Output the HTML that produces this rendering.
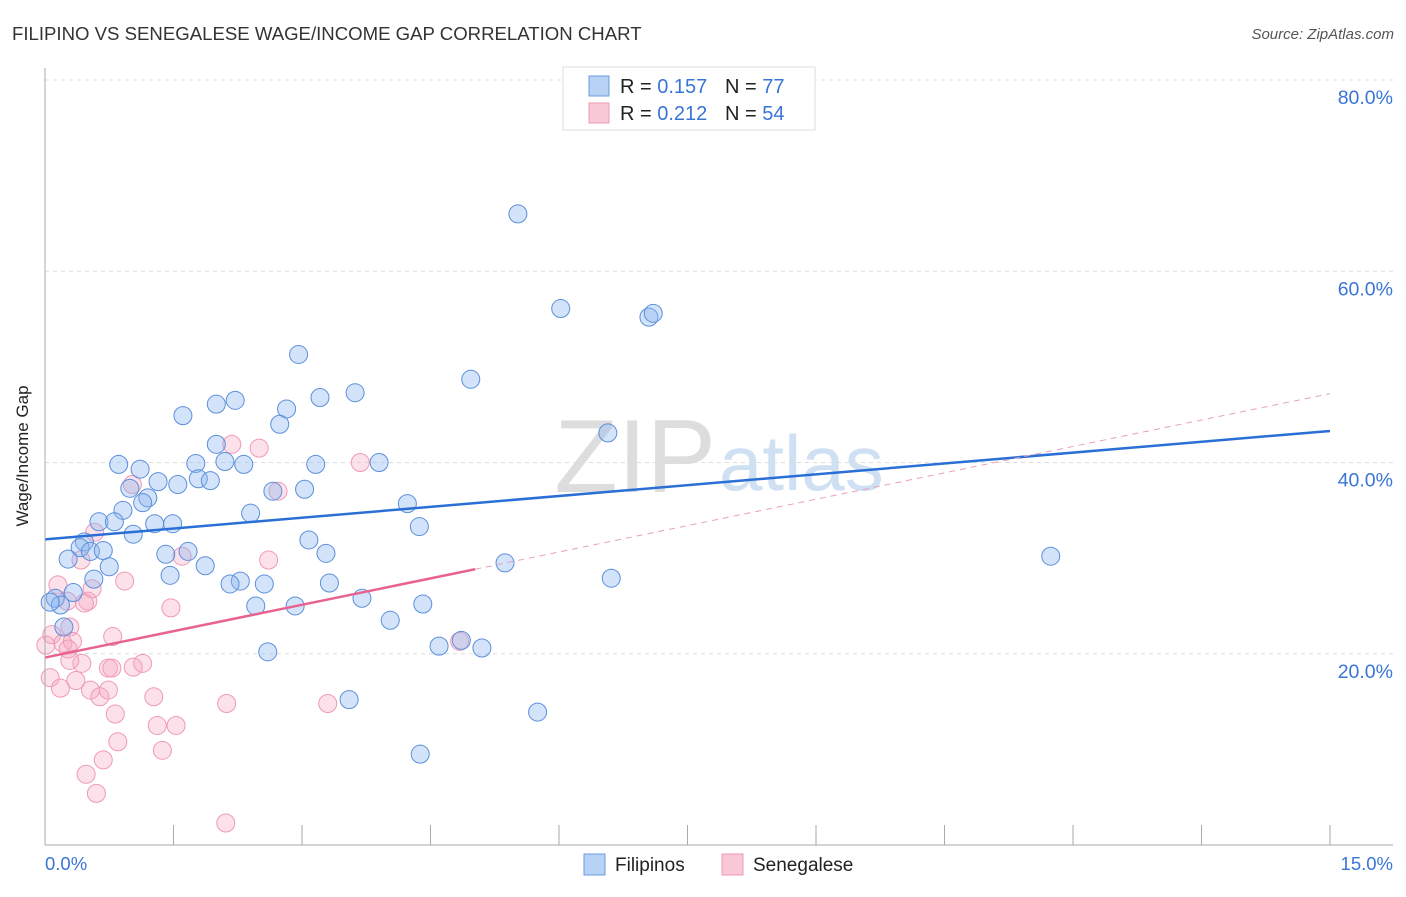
<!DOCTYPE html>
<html><head><meta charset="utf-8"><style>
body{margin:0;background:#fff;font-family:"Liberation Sans",sans-serif}
svg text{font-family:"Liberation Sans",sans-serif}
</style></head><body>
<svg id="c" width="1406" height="892" xmlns="http://www.w3.org/2000/svg">
<text x="12" y="40" font-size="18.6" fill="#333">FILIPINO VS SENEGALESE WAGE/INCOME GAP CORRELATION CHART</text>
<text x="1394" y="39" font-size="15" fill="#555" text-anchor="end" font-style="italic">Source: ZipAtlas.com</text>
<text x="716" y="492" font-size="104" fill="#ddd" text-anchor="end" font-family="Liberation Serif">ZIP</text>
<text x="719" y="490" font-size="78" fill="#cfe0f3">atlas</text>
<g id="grid"></g><g id="pts"></g><g id="trend"></g>
<line x1="45" y1="68" x2="45" y2="845" stroke="#aaa"/>
<line x1="45" y1="845" x2="1393" y2="845" stroke="#aaa"/>
<text x="28" y="456" font-size="17" fill="#222" text-anchor="middle" transform="rotate(-90 28 456)">Wage/Income Gap</text>
<text x="45" y="870" font-size="18.5" fill="#3a75d6">0.0%</text>
<text x="1393" y="870" font-size="18.5" fill="#3a75d6" text-anchor="end">15.0%</text>
<g>
<rect x="563" y="67" width="252" height="63" fill="#fff" stroke="#ddd"/>
<rect x="589" y="76" width="20" height="20" fill="#b8d2f5" stroke="#6b9be0"/>
<rect x="589" y="103" width="20" height="20" fill="#f9c8d6" stroke="#ec9ab3"/>
<text x="620" y="93" font-size="20" fill="#222">R = <tspan fill="#3a75d6">0.157</tspan></text>
<text x="725" y="93" font-size="20" fill="#222">N = <tspan fill="#3a75d6">77</tspan></text>
<text x="620" y="120" font-size="20" fill="#222">R = <tspan fill="#3a75d6">0.212</tspan></text>
<text x="725" y="120" font-size="20" fill="#222">N = <tspan fill="#3a75d6">54</tspan></text>
</g>
<g>
<rect x="584" y="854" width="21" height="21" fill="#b8d2f5" stroke="#6b9be0"/>
<text x="615" y="871" font-size="19" fill="#222">Filipinos</text>
<rect x="722" y="854" width="21" height="21" fill="#f9c8d6" stroke="#ec9ab3"/>
<text x="753" y="871" font-size="19" fill="#222">Senegalese</text>
</g>
</svg>
<script>
const yTicks=[20,40,60,80];
const yTickLabels=["20.0%","40.0%","60.0%","80.0%"];
const xTicks=[0,1.5,3,4.5,6,7.5,9,10.5,12,13.5,15];
const filX=[5.52,6.02,7.05,7.10,2.96,4.97,1.61,2.00,2.22,2.82,3.21,3.62,2.74,6.57,2.00,0.86,1.11,1.76,2.10,2.32,3.16,3.90,0.99,1.20,1.32,1.55,1.79,1.93,2.66,3.03,1.14,0.91,0.63,0.81,1.28,1.49,2.40,4.23,4.37,1.03,0.46,0.41,0.53,0.68,1.41,1.67,3.08,3.28,0.27,0.75,1.87,5.37,11.74,0.57,1.46,2.28,2.16,2.56,3.32,6.61,0.33,0.12,0.18,0.06,3.70,2.46,2.92,4.41,0.22,4.03,4.60,5.10,4.86,2.60,3.55,5.75,4.38];
const filY=[66.0,56.1,55.2,55.6,51.3,48.7,44.9,46.1,46.5,45.6,46.8,47.3,44.0,43.1,41.9,39.8,39.3,39.9,40.1,39.8,39.8,40.0,37.3,36.3,38.0,37.7,38.3,38.1,37.0,37.2,35.8,35.0,33.8,33.8,33.6,33.6,34.7,35.7,33.3,32.5,31.7,31.1,30.7,30.8,30.4,30.7,31.9,30.5,29.9,29.1,29.2,29.5,30.2,27.8,28.2,27.6,27.3,27.3,27.4,27.9,26.4,25.8,25.1,25.4,25.8,25.0,25.0,25.2,22.8,23.5,20.8,20.6,21.4,20.2,15.2,13.9,9.5];
const senX=[2.18,2.50,3.68,2.72,1.02,0.58,0.42,1.60,2.61,0.15,0.93,0.55,0.26,0.50,0.46,1.47,0.29,0.79,0.08,0.01,0.21,0.32,0.27,4.84,0.43,0.74,1.03,1.14,0.78,0.06,0.36,0.53,0.74,0.18,0.64,1.27,2.12,3.30,0.82,1.31,1.53,0.85,1.37,0.68,0.48,0.60,2.11,0.29];
const senY=[41.9,41.5,40.0,37.0,37.7,32.7,29.8,30.2,29.8,27.2,27.6,26.8,25.5,25.5,25.3,24.8,22.8,21.8,22.0,20.9,21.1,21.3,20.5,21.3,19.0,18.5,18.6,19.0,18.5,17.5,17.2,16.2,16.2,16.4,15.5,15.5,14.8,14.8,13.7,12.5,12.5,10.8,9.9,8.9,7.4,5.4,2.3,19.3];
const filTrend=[31.96,43.3];
const senTrend=[19.6,47.2];
const senSolidEnd=5.02;
const X=v=>45+v*(1285/15), Y=v=>845-v*(765/80);
const NS="http://www.w3.org/2000/svg";
function mk(t,a,p){const e=document.createElementNS(NS,t);for(const k in a)e.setAttribute(k,a[k]);p.appendChild(e);return e;}
const g=document.getElementById('grid');
yTicks.forEach((v,i)=>{
 const l=mk('line',{x1:45,x2:1393,y1:Y(v),y2:Y(v),stroke:'#ddd','stroke-dasharray':'4,4'},g);
 
 
 const t=mk('text',{x:1393,y:Y(v)+24,'font-size':19.5,fill:'#3a75d6','text-anchor':'end'},g);
 t.textContent=yTickLabels[i];
 
 
});
xTicks.forEach(v=>{
 const l=mk('line',{x1:X(v),x2:X(v),y1:825,y2:845,stroke:'#aaa'},g);
 
 
});
const p=document.getElementById('pts');
senX.forEach((v,i)=>{
 const c=mk('circle',{cx:X(v),cy:Y(senY[i]),r:9,fill:'rgba(245,165,192,0.33)',stroke:'#ef9ab6','stroke-width':1},p);
 
 
});
filX.forEach((v,i)=>{
 const c=mk('circle',{cx:X(v),cy:Y(filY[i]),r:9,fill:'rgba(140,182,238,0.38)',stroke:'#5c90da','stroke-width':1},p);
 
 
});
const tr=document.getElementById('trend');
const b=mk('line',{x1:X(0),y1:Y(filTrend[0]),x2:X(15),y2:Y(filTrend[1]),stroke:'#2a6fd6','stroke-width':2.5},tr);


const sl=(senTrend[1]-senTrend[0])/15;
const s1=mk('line',{x1:X(0),y1:Y(senTrend[0]),x2:X(senSolidEnd),y2:Y(senTrend[0]+sl*senSolidEnd),stroke:'#e8638f','stroke-width':2.5},tr);


const s2=mk('line',{x1:X(senSolidEnd),y1:Y(senTrend[0]+sl*senSolidEnd),x2:X(15),y2:Y(senTrend[1]),stroke:'#e8a0b8','stroke-width':1,'stroke-dasharray':'6,5'},tr);


</script>
</body></html>
